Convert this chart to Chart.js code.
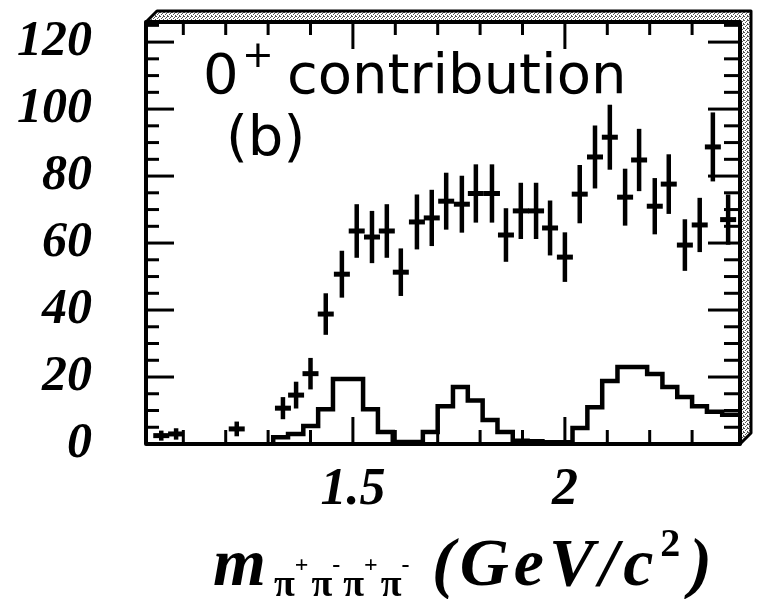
<!DOCTYPE html>
<html>
<head>
<meta charset="utf-8">
<script src="https://cdn.jsdelivr.net/npm/chart.js@4.4.1/dist/chart.umd.min.js"></script>
<style>
  html, body { margin: 0; padding: 0; background: #fff; }
  #wrap { position: relative; width: 768px; height: 599px; }
</style>
</head>
<body>
<div id="wrap"><canvas id="chart"></canvas></div>
<script>
// values (0+ contribution, panel b)

// data points: mass bin centre, events, error
const massX = [1.048, 1.083, 1.226, 1.335, 1.366, 1.400, 1.436, 1.474, 1.509, 1.545,
               1.580, 1.613, 1.651, 1.686, 1.720, 1.757, 1.790, 1.828, 1.861, 1.896,
               1.932, 1.965, 2.000, 2.035, 2.071, 2.106, 2.142, 2.175, 2.212, 2.245,
               2.283, 2.318, 2.349, 2.385];
const counts = [2.5, 3, 4.5, 10.7, 14.6, 21, 38.8, 50.7, 63.6, 61.8,
                63.6, 51.3, 66.3, 67.5, 72.5, 71.6, 74.8, 74.8, 62.4, 69.6,
                69.6, 64.5, 55.8, 74.6, 85.7, 91.6, 73.7, 84.8, 71.0, 77.6,
                59.4, 65.4, 88.7, 67];
const countErr = [1.5, 1.7, 2.2, 3.3, 4.0, 4.7, 6.2, 7.0, 8.0, 7.8,
                  8.0, 7.1, 8.2, 8.4, 8.5, 8.5, 8.7, 8.7, 8.0, 8.4,
                  8.4, 8.2, 7.4, 8.7, 9.4, 9.7, 8.5, 9.3, 8.4, 8.9,
                  7.7, 8.1, 10.3, 7.5];

// histogram: bin edges and contents
const histEdges = [1.312, 1.347, 1.383, 1.418, 1.453, 1.489, 1.524, 1.559, 1.594, 1.630,
                   1.665, 1.700, 1.736, 1.771, 1.806, 1.841, 1.877, 1.912, 1.947, 1.983,
                   2.018, 2.053, 2.088, 2.124, 2.159, 2.194, 2.230, 2.265, 2.300, 2.335,
                   2.371, 2.413];
const histHeights = [2, 3, 5.4, 10.4, 19.4, 19.4, 10.4, 3.6, 0.6, 0.6,
                     3.6, 11.3, 17, 13, 7.2, 3.6, 1, 0.8, 0.5, 0.5,
                     4.8, 11, 18.8, 23, 23, 20.9, 17, 14, 11.3, 9.6,
                     8.7];

// axis ticks
const yTickLabels = [0, 20, 40, 60, 80, 100, 120];
const yMinorTicks = [5, 10, 15, 25, 30, 35, 45, 50, 55, 65, 70, 75, 85, 90, 95, 105, 110, 115, 125];
const xTickLabels = [1.5, 2];
const xMinorTicks = [1.1, 1.2, 1.3, 1.4, 1.6, 1.7, 1.8, 1.9, 2.1, 2.2, 2.3];

const X_MIN = 1.012, X_MAX = 2.413;
const Y_MIN = 0, Y_MAX = 126;

const INK = '#000';
const serifFont = '"Liberation Serif", "Times New Roman", serif';

const pointData = massX.map((x, i) => ({ x, y: counts[i] }));

const histData = [{ x: histEdges[0], y: 0 }];
histHeights.forEach((h, i) => histData.push({ x: histEdges[i], y: h }));
histData.push({ x: histEdges[histEdges.length - 1], y: histHeights[histHeights.length - 1] });

/**
 * Stippled fill for the 3D rim of the frame
 */
function makeStipple(ctx) {
    const c = document.createElement('canvas');
    c.width = 4; c.height = 4;
    const g = c.getContext('2d');
    g.fillStyle = '#fff';
    g.fillRect(0, 0, 4, 4);
    g.fillStyle = '#555';
    g.fillRect(0, 0, 1, 1); g.fillRect(2, 1, 1, 1);
    g.fillRect(1, 2, 1, 1); g.fillRect(3, 3, 1, 1);
    g.fillRect(3, 0, 1, 1);
    return ctx.createPattern(c, 'repeat');
}

// vertical error bars on the data points
const errorBarPlugin = {
    id: 'errorBars',
    afterDatasetsDraw(chart) {
        const { ctx, chartArea } = chart;
        const ys = chart.scales.y;
        const meta = chart.getDatasetMeta(0);
        ctx.save();
        ctx.beginPath();
        ctx.rect(chartArea.left, chartArea.top, chartArea.right - chartArea.left, chartArea.bottom - chartArea.top);
        ctx.clip();
        ctx.strokeStyle = INK;
        ctx.lineWidth = 4.5;
        meta.data.forEach((pt, i) => {
            const yTop = ys.getPixelForValue(counts[i] + countErr[i]);
            const yBot = ys.getPixelForValue(Math.max(0, counts[i] - countErr[i]));
            ctx.beginPath();
            ctx.moveTo(pt.x, yTop);
            ctx.lineTo(pt.x, yBot);
            ctx.stroke();
        });
        ctx.restore();
    }
};

// frame with 3D rim and inward ticks on all four sides
const framePlugin = {
    id: 'frame',
    afterDraw(chart) {
        const { ctx, chartArea, scales } = chart;
        const { left, right, top, bottom } = chartArea;
        const d = 11;
        ctx.save();

        // rim (top and right faces)
        ctx.beginPath();
        ctx.moveTo(left, top);
        ctx.lineTo(left + d, top - d);
        ctx.lineTo(right + d, top - d);
        ctx.lineTo(right + d, bottom - d);
        ctx.lineTo(right, bottom);
        ctx.lineTo(right, top);
        ctx.closePath();
        ctx.fillStyle = makeStipple(ctx);
        ctx.fill();
        ctx.strokeStyle = INK;
        ctx.lineWidth = 3;
        ctx.lineJoin = 'round';
        ctx.stroke();

        // front face
        ctx.lineWidth = 4;
        ctx.strokeRect(left, top, right - left, bottom - top);

        // ticks
        ctx.lineWidth = 3;
        const tick = (x1, y1, x2, y2) => {
            ctx.beginPath(); ctx.moveTo(x1, y1); ctx.lineTo(x2, y2); ctx.stroke();
        };
        xMinorTicks.forEach(v => {
            const x = scales.x.getPixelForValue(v);
            tick(x, bottom, x, bottom - 14);
            tick(x, top, x, top + 13);
        });
        xTickLabels.forEach(v => {
            const x = scales.x.getPixelForValue(v);
            tick(x, bottom, x, bottom - 27);
            tick(x, top, x, top + 27);
        });
        yMinorTicks.forEach(v => {
            const y = scales.y.getPixelForValue(v);
            tick(left, y, left + 13, y);
            tick(right, y, right - 16, y);
        });
        yTickLabels.forEach(v => {
            if (v === 0) return;
            const y = scales.y.getPixelForValue(v);
            tick(left, y, left + 28, y);
            tick(right, y, right - 32, y);
        });
        ctx.restore();
    }
};

// panel annotation and axis title
const textPlugin = {
    id: 'texts',
    afterDraw(chart) {
        const { ctx } = chart;
        ctx.save();
        ctx.fillStyle = INK;
        ctx.textBaseline = 'alphabetic';
        ctx.textAlign = 'left';

        // "0+ contribution" and "(b)"
        ctx.font = '56px "DejaVu Sans", sans-serif';
        ctx.fillText('0', 203, 93);
        ctx.font = '38px "DejaVu Sans", sans-serif';
        ctx.fillText('+', 242, 67);
        ctx.font = '56px "DejaVu Sans", sans-serif';
        ctx.fillText('contribution', 287, 93);
        ctx.fillText('(b)', 226, 155);

        // m_{pi+ pi- pi+ pi-} (GeV/c^2)
        ctx.font = `bold italic 68px ${serifFont}`;
        ctx.fillText('m', 213, 585);
        let x = 274;
        ['+', '-', '+', '-'].forEach(sign => {
            ctx.font = `bold 38px ${serifFont}`;
            ctx.fillText('π', x, 596);
            x += ctx.measureText('π').width;
            ctx.font = `bold 24px ${serifFont}`;
            ctx.fillText(sign, x, 572);
            x += ctx.measureText(sign).width + 3;
        });
        ctx.font = `bold italic 68px ${serifFont}`;
        ctx.letterSpacing = '5px';
        ctx.fillText('(GeV/c', 432, 585);
        let x2 = 432 + ctx.measureText('(GeV/c').width;
        ctx.font = `bold 40px ${serifFont}`;
        ctx.fillText('2', x2 + 2, 556);
        x2 += ctx.measureText('2').width + 6;
        ctx.font = `bold italic 68px ${serifFont}`;
        ctx.fillText(')', x2, 585);
        ctx.restore();
    }
};

// keep the plot frame where the figure has it, whatever the label sizes
function fixPadding(s) {
    s.paddingTop = 0;
    s.paddingBottom = 0;
    s.paddingLeft = 0;
    s.paddingRight = 0;
}

const chart = new Chart(document.getElementById('chart'), {
    type: 'scatter',
    data: {
        datasets: [
            {
                label: 'data',
                data: pointData,
                pointStyle: 'line',
                pointRadius: 8,
                pointBorderWidth: 5,
                borderColor: INK,
                backgroundColor: INK,
                showLine: false
            },
            {
                type: 'line',
                label: '0+ fit',
                data: histData,
                stepped: true,
                borderColor: INK,
                borderWidth: 4.5,
                pointRadius: 0,
                fill: false,
                tension: 0
            }
        ]
    },
    options: {
        responsive: true,
        maintainAspectRatio: false,
        animation: false,
        events: [],
        layout: { padding: { top: 22, right: 28, left: 0, bottom: 0 } },
        plugins: {
            legend: { display: false },
            tooltip: { enabled: false }
        },
        scales: {
            x: {
                type: 'linear',
                min: X_MIN,
                max: X_MAX,
                grid: { display: false, drawTicks: false },
                border: { display: false },
                afterBuildTicks: (s) => { s.ticks = xTickLabels.map(v => ({ value: v })); },
                afterFit: (s) => { s.height = 155; fixPadding(s); },
                ticks: {
                    autoSkip: false,
                    maxRotation: 0,
                    padding: 15,
                    color: INK,
                    font: { family: serifFont, size: 52, style: 'italic', weight: 'bold' },
                    callback: (v) => String(v)
                }
            },
            y: {
                type: 'linear',
                min: Y_MIN,
                max: Y_MAX,
                grid: { display: false, drawTicks: false },
                border: { display: false },
                afterBuildTicks: (s) => { s.ticks = yTickLabels.map(v => ({ value: v })); },
                afterFit: (s) => { s.width = 146; fixPadding(s); },
                ticks: {
                    autoSkip: false,
                    padding: 54,
                    color: INK,
                    font: { family: serifFont, size: 50, style: 'italic', weight: 'bold' },
                    callback: (v) => String(v)
                }
            }
        }
    },
    plugins: [errorBarPlugin, framePlugin, textPlugin]
});
</script>
</body>
</html>
